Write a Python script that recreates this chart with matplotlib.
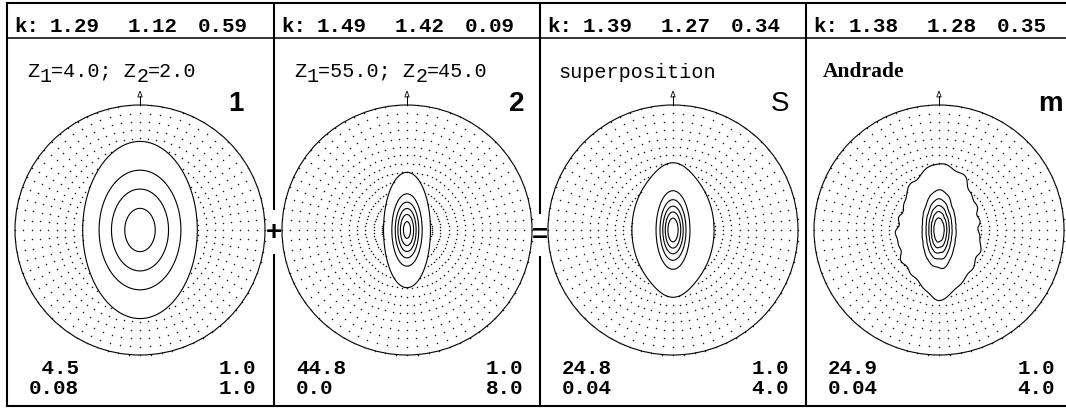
import numpy as np
import matplotlib
matplotlib.use("Agg")
import matplotlib.pyplot as plt
from matplotlib.patches import Circle, Polygon

W, H = 1066, 410

# ---- values -------------------------------------------------------------
k_values = [["1.29", "1.12", "0.59"],
            ["1.49", "1.42", "0.09"],
            ["1.39", "1.27", "0.34"],
            ["1.38", "1.28", "0.35"]]
# Bingham concentration parameters of the two model components
z1 = [4.0, 55.0]
z2 = [2.0, 45.0]
panel_marks = ["1", "2", "S", "m"]
max_density = [4.5, 44.8, 24.8, 24.9]
min_density = ["0.08", "0.0", "0.04", "0.04"]
contour_start = [1.0, 1.0, 1.0, 1.0]
contour_step = [1.0, 8.0, 4.0, 4.0]
# azimuthal irregularity of the measured (Andrade) pole figure
ripple_order = [3, 7, 12, 19]
ripple_amp = [0.05, 0.04, 0.03, 0.03]
ripple_phase = [0.4, 1.7, 2.9, 0.9]

# ---- layout (pixels) ----------------------------------------------------
panel_left = [7, 274, 540, 806]
panel_width = 266
R = 125
cy = 231
top_y, head_y, bottom_y = 4, 39, 407
mark_x = [236, 517, 780, 1050]

mono = "Liberation Mono"

fig = plt.figure(figsize=(W / 100, H / 100), dpi=100)
ax = fig.add_axes([0, 0, 1, 1])
ax.set_xlim(0, W)
ax.set_ylim(H, 0)
ax.axis("off")
renderer = fig.canvas.get_renderer()


def bingham(u, v, a, b, peak):
    """Density on the lower hemisphere, equal-area coordinates (u, v)."""
    r = np.hypot(u, v)
    th = 2 * np.arcsin(np.clip(r / np.sqrt(2), 0, 1))
    s = np.sin(th)
    safe = np.where(r > 0, r, 1)
    x = np.where(r > 0, s * u / safe, 0.0)
    y = np.where(r > 0, s * v / safe, 0.0)
    return peak * np.exp(-a * x ** 2 - (a - b) * y ** 2)


def comp(i, u, v):
    return bingham(u, v, z1[i], z2[i], max_density[i])


def superpos(u, v, peak):
    f = 0.5 * (comp(0, u, v) + comp(1, u, v))
    f0 = 0.5 * (max_density[0] + max_density[1])
    return f * peak / f0


def measured(u, v):
    f = superpos(u, v, max_density[3])
    phi = np.arctan2(v, u)
    r = np.hypot(u, v)
    mod = np.zeros_like(f)
    for n, a, p in zip(ripple_order, ripple_amp, ripple_phase):
        mod = mod + a * np.sin(n * phi + p + 9 * r)
    taper = np.clip(r / 0.3, 0, 1) ** 1.5
    return f * (1 + mod * taper)


def field(i, u, v):
    if i < 2:
        return comp(i, u, v)
    if i == 2:
        return superpos(u, v, max_density[2])
    return measured(u, v)


# dot grid: 15 rings, 5 deg azimuth
rings = np.arange(1, 16) / 15
azims = np.radians(np.arange(0, 360, 5))
RG, AA = np.meshgrid(rings, azims)
gu = (RG * np.cos(AA)).ravel()
gv = (RG * np.sin(AA)).ravel()

# fine grid for contours
g = np.linspace(-1, 1, 501)
U, V = np.meshgrid(g, g)
Rr = np.hypot(U, V)

for i in range(4):
    x0 = panel_left[i]
    cx = x0 + panel_width / 2
    levels = np.arange(contour_start[i], max_density[i], contour_step[i])

    # dotted region below the first contour level
    fd = field(i, gu, gv)
    low = fd < contour_start[i]
    ax.plot(cx + R * gu[low], cy - R * gv[low], ls="none", marker="o",
            ms=1.1, mew=0, color="#1a1a1a")

    F = field(i, U, V)
    F = np.where(Rr <= 1.0, F, np.nan)
    ax.contour(cx + R * U, cy - R * V, F, levels=levels,
               colors="black", linewidths=0.8)

    # primitive circle and reference arrow
    ax.add_patch(Circle((cx, cy), R, fill=False, lw=0.8, ec="black"))
    ax.plot([cx, cx], [cy - R, cy - R - 9], color="black", lw=0.7)
    ax.add_patch(Polygon([[cx - 2.2, cy - R - 8], [cx + 2.2, cy - R - 8],
                          [cx, cy - R - 14]], closed=True, fc="white",
                         ec="black", lw=0.6))

    # header
    ax.text(x0 + 7, 32, "k:", family=mono, weight="bold", fontsize=15,
            va="baseline")
    for xo, s in zip([43, 121, 191], k_values[i]):
        ax.text(x0 + xo, 32, s, family=mono, weight="bold", fontsize=15,
                va="baseline")

    # panel mark
    ax.text(mark_x[i], 104, panel_marks[i], family="Liberation Sans",
            weight="normal" if panel_marks[i] == "S" else "bold",
            fontsize=20, ha="center", va="center")

    # bottom numbers
    ax.text(x0 + 22, 369, f"{max_density[i]:4.1f}", family=mono,
            weight="bold", fontsize=15, va="center")
    ax.text(x0 + 22, 389, min_density[i], family=mono, weight="bold",
            fontsize=15, va="center")
    ax.text(x0 + panel_width - 17, 369, f"{contour_start[i]:.1f}",
            family=mono, weight="bold", fontsize=15, va="center", ha="right")
    ax.text(x0 + panel_width - 17, 389, f"{contour_step[i]:.1f}",
            family=mono, weight="bold", fontsize=15, va="center", ha="right")

# titles with subscripts
for i in range(2):
    x = panel_left[i] + 20
    pieces = [("Z", 0), ("1", 1), (f"={z1[i]:.1f}; Z", 0), ("2", 1),
              (f"={z2[i]:.1f}", 0)]
    for s, sub in pieces:
        t = ax.text(x, 77 + (5 if sub else 0), s, family=mono,
                    fontsize=14.5, va="baseline")
        bb = t.get_window_extent(renderer)
        x += bb.width
ax.text(panel_left[2] + 18, 78, "superposition", family=mono, fontsize=14.5,
        va="baseline")
ax.text(panel_left[3] + 17, 77, "Andrade", family="Liberation Serif",
        weight="bold", fontsize=15.5, va="baseline")

# frame
lw_b = 1.5
ax.plot([panel_left[0], W + 2], [top_y, top_y], color="black", lw=lw_b)
ax.plot([panel_left[0], W + 2], [head_y, head_y], color="black", lw=1.1)
ax.plot([panel_left[0], W + 2], [bottom_y, bottom_y], color="black", lw=lw_b)
ax.plot([panel_left[0]] * 2, [top_y, bottom_y], color="black", lw=lw_b)
ax.plot([panel_left[3]] * 2, [top_y, bottom_y], color="black", lw=lw_b)
for xs, gap, sign, sy in [(panel_left[1], (210, 256), "+", 233),
                          (panel_left[2], (214, 258), "=", 236)]:
    ax.plot([xs, xs], [top_y, gap[0]], color="black", lw=lw_b)
    ax.plot([xs, xs], [gap[1], bottom_y], color="black", lw=lw_b)
    ax.text(xs, sy, sign, family="Liberation Sans", weight="bold",
            fontsize=20, ha="center", va="center")

fig.savefig("out.png", dpi=100)
